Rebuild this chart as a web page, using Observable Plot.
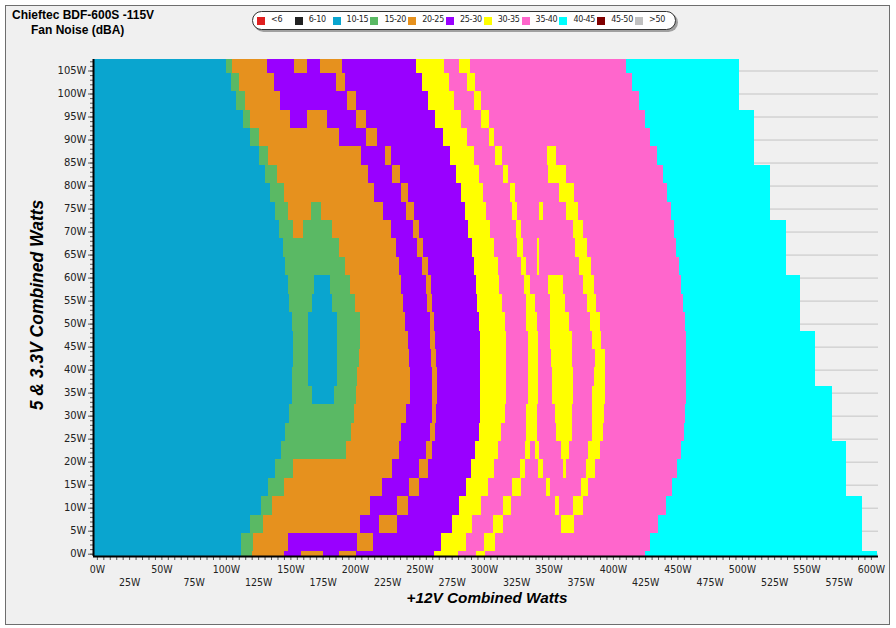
<!DOCTYPE html>
<html><head><meta charset="utf-8">
<script src="https://cdn.jsdelivr.net/npm/d3@7"></script>
<script src="https://cdn.jsdelivr.net/npm/@observablehq/plot@0.6"></script>
<style>
body{margin:0;background:#fff;}
#wrap{position:relative;width:896px;height:628px;overflow:hidden;}
#frame{position:absolute;left:5px;top:5px;width:885px;height:620px;border:1px solid #6e6e6e;background:#f0f0f0;box-sizing:border-box;}
#chart{position:absolute;left:0;top:0;}
.t{position:absolute;font-family:"Liberation Sans",Arial,sans-serif;font-weight:bold;color:#000;white-space:nowrap;}
#legend{position:absolute;left:252px;top:11px;width:424px;height:19px;box-sizing:border-box;border:1.5px solid #333;border-radius:10px;background:#fff;box-shadow:2px 2px 0 #a0a0a0;}
.sw{position:absolute;width:8px;height:8px;top:17px;}
.lt{position:absolute;top:15px;font-family:"DejaVu Sans",sans-serif;font-size:8px;color:#222;white-space:nowrap;letter-spacing:-0.3px;}
</style></head>
<body>
<div id="wrap">
  <div id="frame"></div>
  <div id="chart"></div>
  <div class="t" style="left:12px;top:8px;font-size:12px;line-height:14px;">Chieftec BDF-600S -115V</div>
  <div class="t" style="left:31px;top:23px;font-size:12px;line-height:14px;">Fan Noise (dBA)</div>
  <div id="legend"></div>
  <div class="t" id="ytitle" style="left:37px;top:305px;font-size:17.5px;font-style:italic;transform:translate(-50%,-50%) rotate(-90deg);">5 &amp; 3.3V Combined Watts</div>
  <div class="t" id="xtitle" style="left:487px;top:598px;font-size:15.3px;font-style:italic;transform:translate(-50%,-50%);">+12V Combined Watts</div>
</div>
<script>
// Noise categories (dBA) and their colours
const categories = ["<6","6-10","10-15","15-20","20-25","25-30","30-35","35-40","40-45","45-50",">50"];
const colors = ["#e02020","#222222","#0aa5cf","#5ab964","#e6911e","#9900ff","#ffff00","#ff66cc","#00ffff","#800000","#c0c0c0"];
const codeToCat = {b:"10-15", g:"15-20", o:"20-25", p:"25-30", y:"30-35", k:"35-40", c:"40-45"};

// grid rows (5 & 3.3V watts) : bottom and top of each row band
const rowBottom = [-0.5,0.5,4.5,8.5,12.5,16.5,20.5,24.5,28.5,32.5,36.5,40.5,44.5,48.5,52.5,56.5,60.5,64.5,68.5,72.5,76.5,80.5,84.5,88.5,92.5,96.5,100.5,104.5];
const rowTop = [0.5,4.5,8.5,12.5,16.5,20.5,24.5,28.5,32.5,36.5,40.5,44.5,48.5,52.5,56.5,60.5,64.5,68.5,72.5,76.5,80.5,84.5,88.5,92.5,96.5,100.5,104.5,107.5];
// first cell edge of the +12V grid
const xStart = -3;
// run-length rows: category code + +12V watts where the run ends
const rowRuns = [
 "b112 g120 o145 p158 o175 p188 o201 p261 y280 k294 y301 k425 c605",
 "b112 g121 o148 p201.5 o214 p267 y286 k300 y309 k429 c593",
 "b119 g129 o204 p219 o232.5 p275 y291 k307 y315 k360 y370 k435 c593",
 "b127 g136 o212 p233 o241 p281 y298 k315 y321 k355 y358 k369 y377 k441 c593",
 "b133 g145 o221 p242 o250 p286 y303 k322 y329 k348 y351 k375 y381 k446 c581",
 "b138 g152 o229 p250 o257 p290 y308 k328 y332 k342 y346 k361 y364 k379 y386 k450 c581",
 "b143 g193 o234 p255 o260 p293 y311 k332 y336 k340 y343 k360 y366 k381 y390 k453 c581",
 "b146 g197 o236 p258 o262 p296 y313 k333 y341 k356 y368 k384 y392 k455 c570",
 "b149 g199 o240 p260 o263 p297 y316 k333 y341 k355 y368 k384 y393 k456 c570",
 "b151 g167 b184 g201 o243 p260 o264 p297 y317 k334 y342 k353 y369 k384 y394 k457 c570",
 "b151 g164 b186 g202 o243 p260 o264 p297 y317 k334 y342 k353 y369 k385 y394 k457 c557",
 "b152 g164 b186 g203 o242 p259 o263 p297 y317 k334 y342 k352 y368 k386 y394 k457 c557",
 "b152 g164 b186 g204 o241 p258 o262 p297 y317 k334 y342 k351 y368 k384 y391 k457 c557",
 "b151 g164 b186 g204 o239 p258 o261 p296 y316 k333 y341 k351 y366 k382 y390 k456 c545",
 "b149 g167 b182 g200 o237 p256 o260 p295 y314 k333 y340 k351 y363 k380 y387 k454 c545",
 "b148 g168 b181 g196 o236 p255 o259 p294 y312 k331 y336 k350 y361 k377 y385 k453 c545",
 "b146 g192 o234 p252 o257 p292 y311 k329 y333 k341 y343 k374 y383 k451 c534",
 "b144 g188 o232 p248 o253 p291 y308 k326 y330 k341 y343 k371 y380 k449 c534",
 "b141 g152 o160 g182 o228 p245 o250 p288 y305 k325 y329 k369 y377 k447 c534",
 "b138 g148 o166 g174 o222 p240 o246 p285 y302 k322 y326 k343 y346 k364 y373 k445 c522",
 "b134 g145 o215 p236 o241 p282 y299 k320 y324 k358 y370 k442 c522",
 "b130 g140 o210 p229 o235 p278 y296 k315 y319 k350 y364 k439 c522",
 "b126 g133 o205 p223 o228 p274 y292 k309 y314 k349 y356 k434 c509",
 "b119 g126 o188 p209 o217 p268 y287 k304 y308 k429 c509",
 "b113 g119 o150 p163 o178 p201 o209 p262 y282 k298 y304 k425 c509",
 "b108 g115 o142 p194 o201 p257 y277 k292 y298 k420 c497.5",
 "b104 g110 o137 p185 o192 p252 y273 k287 y293 k415 c497.5",
 "b100 g105 o132 p153 o163 p173 o190 p247 y269 k281 y289 k410 c497.5"
];
// axis ticks
const yMinorTicks = d3.range(0, 108, 1);
const yMajorTicks = d3.range(0, 106, 5);
const xMinorTicks = d3.range(0, 601, 5);
const xTicksRow1 = d3.range(0, 601, 50);
const xTicksRow2 = d3.range(25, 600, 50);

const cells = [];
rowRuns.forEach((s, i) => {
  let x = xStart;
  s.split(" ").forEach(tok => {
    const end = +tok.slice(1);
    cells.push({x1: x, x2: end, y1: rowBottom[i], y2: rowTop[i], cat: codeToCat[tok[0]]});
    x = end;
  });
});

const condensed = "'DejaVu Sans Condensed','Liberation Sans Narrow','DejaVu Sans',sans-serif";
const chart = Plot.plot({
  width: 896, height: 628,
  marginLeft: 93, marginRight: 18, marginTop: 59, marginBottom: 72,
  x: {domain: [xStart, 605.5], axis: null, label: null},
  y: {domain: [-0.5, 107.5], axis: null, label: null},
  color: {domain: categories, range: colors},
  style: {background: "transparent", fontFamily: "'DejaVu Sans',sans-serif", fontSize: "10px", color: "#222"},
  marks: [
    Plot.gridY(yMajorTicks, {stroke: "#c4c4c4", strokeOpacity: 1}),
    Plot.rect(cells, {x1: "x1", x2: "x2", y1: "y1", y2: "y2", fill: "cat", shapeRendering: "crispEdges"}),
    Plot.axisY(yMinorTicks, {tickSize: 3, tickFormat: () => "", stroke: "#555", label: null}),
    Plot.axisY(yMajorTicks, {tickSize: 5, tickPadding: 2, tickFormat: d => d + "W", stroke: "#555", fill: "#222", fontSize: 10, label: null}),
    Plot.axisX(xMinorTicks, {tickSize: 4, tickFormat: () => "", stroke: "#555", label: null}),
    Plot.axisX(xTicksRow1, {tickSize: 0, tickPadding: 9, tickFormat: d => d + "W", fontFamily: condensed, fontSize: 10.5, fill: "#222", label: null}),
    Plot.axisX(xTicksRow2, {tickSize: 0, tickPadding: 22, tickFormat: d => d + "W", fontFamily: condensed, fontSize: 10.5, fill: "#222", label: null}),
    Plot.ruleX([xStart], {stroke: "#000", strokeWidth: 2}),
    Plot.ruleY([-0.5], {stroke: "#000", strokeWidth: 2})
  ]
});
document.getElementById("chart").appendChild(chart);

// legend
const leg = document.getElementById("wrap");
categories.forEach((c, i) => {
  const sx = 257 + i * 37.8;
  const sw = document.createElement("div");
  sw.className = "sw"; sw.style.left = sx + "px"; sw.style.background = colors[i];
  leg.appendChild(sw);
  const lt = document.createElement("div");
  lt.className = "lt"; lt.style.left = (sx + 14) + "px"; lt.textContent = c;
  leg.appendChild(lt);
});
</script>
</body></html>
